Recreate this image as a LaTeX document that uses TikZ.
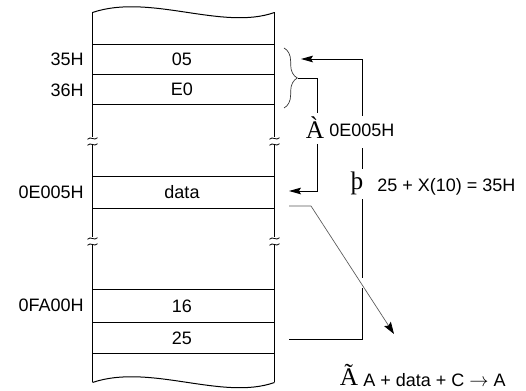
\documentclass[tikz,border=0pt]{standalone}
\usepackage{fontspec}
\setmainfont{Liberation Sans}
\newfontfamily\glyphfont{Liberation Serif}
\usetikzlibrary{arrows.meta,decorations.pathreplacing}
\tikzset{
  colline/.style={line width=1.1pt, line cap=butt},
  rowline/.style={line width=0.75pt},
  wave/.style={line width=0.75pt},
  conn/.style={line width=0.7pt},
  arr/.style={conn, -{Stealth[length=9pt,width=5pt,inset=1.5pt]}},
  diag/.style={line width=0.5pt, draw=black!65, -{Stealth[length=9pt,width=6pt,inset=1.5pt,color=black]}},
  txt/.style={font=\fontsize{13.5}{16}\selectfont, inner sep=0pt},
  glyph/.style={font=\glyphfont\fontsize{19}{22}\selectfont, inner sep=0pt},
  brk/.style={line width=0.6pt},
}
\begin{document}
\begin{tikzpicture}[x=0.75pt,y=-0.75pt]
\useasboundingbox (0,0) rectangle (526,391);

% waves
\draw[wave] (92.5,12.5) .. controls (150,-7) and (222,31) .. (274.5,12.5);
\draw[wave] (92.5,382.5) .. controls (150,363) and (222,401) .. (274.5,382.5);

% column edges with breaks
\foreach \x in {92.5,274.5}{
  \draw[colline] (\x,12.5) -- (\x,137);
  \draw[colline] (\x,144) -- (\x,237);
  \draw[colline] (\x,244) -- (\x,382.5);
  \foreach \y in {138.5,144.5,238.5,244.5}{
    \draw[brk] (\x-5,\y+0.8) .. controls (\x-2,\y-3) and (\x+2,\y+3) .. (\x+5,\y-0.8);
  }
}

% row lines
\foreach \y in {44.3,74.3,104.3,176.7,208.3,289.3,322.3,354}{
  \draw[rowline] (92.5,\y) -- (274.5,\y);
}

% cell contents
\node[txt] (c05) at (182,59.5) {05};
\node[txt] (cE0) at (182,89.5) {E0};
\node[txt] (cdata) at (182,192.5) {data};
\node[txt] (c16) at (182,306) {16};
\node[txt] (c25) at (182,338) {25};

% addresses
\node[txt,anchor=east] (a35) at (84,59.5) {35H};
\node[txt,anchor=east] (a36) at (84,90) {36H};
\node[txt,anchor=east] (aE005) at (84,192) {0E005H};
\node[txt,anchor=east] (aFA00) at (84,305.5) {0FA00H};

% brace
\draw[line width=0.5pt, black!80, decorate, decoration={brace, amplitude=10pt}] (284,48) -- (284,108);
\coordinate (btip) at (298,78);

% labels
\node[glyph] (gA) at (315,128) {À};
\node[txt,anchor=west] (tA) at (329,130) {0E005H};
\node[glyph] (gB) at (357,183) {þ};
\node[txt,anchor=base west] (tB) at (377,192) {25 + X(10) = 35H};
\node[glyph,anchor=base] (gC) at (349,386) {Ã};
\node[txt,anchor=west] (tC) at (363,380.5) {A + data + C $\rightarrow$ A};

% arrow 1: 36H/35H pointer -> data
\coordinate (a1a) at (317,78);
\coordinate (a1b) at (317,113);
\coordinate (a1c) at (317,144);
\coordinate (a1d) at (317,191);
\coordinate (a1e) at (289,191);
\draw[conn] (btip) -- (a1a) -- (a1b);
\draw[arr] (a1c) -- (a1d) -- (a1e);

% arrow 2: 25 -> 35H
\coordinate (a2s) at (289,339);
\coordinate (a2c) at (362,339);
\coordinate (a2x1) at (362,288);
\coordinate (a2x2) at (362,278);
\coordinate (a2g1) at (362,199);
\coordinate (a2g2) at (362,169);
\coordinate (a2g3) at (362,148);
\coordinate (a2g4) at (362,116);
\coordinate (a2t) at (362,59);
\coordinate (a2e) at (301,59);
\draw[conn] (a2s) -- (a2c) -- (a2x1);
\draw[conn] (a2x2) -- (a2g1);
\draw[conn] (a2g2) -- (a2g3);
\draw[arr] (a2g4) -- (a2t) -- (a2e);

% arrow 3: data -> result
\coordinate (a3s) at (289,206);
\coordinate (a3b) at (311,206);
\coordinate (a3e) at (394,334);
\draw[diag] (a3s) -- (a3b) -- (a3e);
\end{tikzpicture}
\end{document}
